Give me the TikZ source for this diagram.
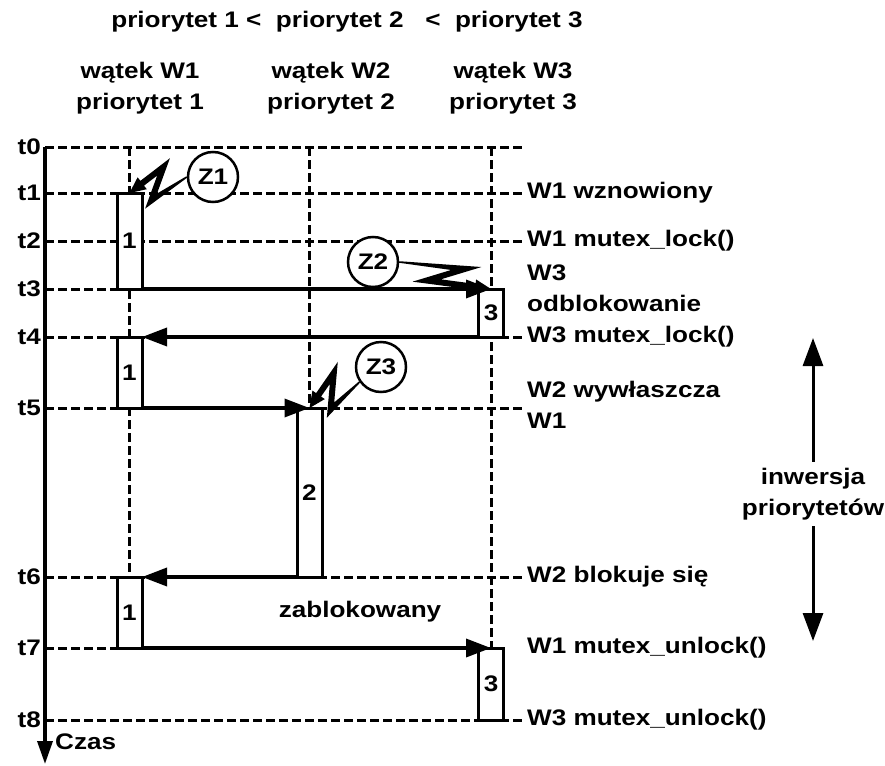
\documentclass[tikz,border=0pt]{standalone}
\usepackage{fontspec}
\setmainfont{Liberation Sans}[FakeStretch=1.16]
\usetikzlibrary{arrows.meta,calc}

% lightning from #1 to #2, far spike #3 to one side, near spike #4 to the other
\newcommand{\bolt}[4]{%
  \coordinate (bS) at (#1);
  \coordinate (bT) at (#2);
  \coordinate (bB) at ($(bS)!0.68!(bT)+(bS)!#3!90:(bT)-(bS)$);
  \coordinate (bA) at ($(bS)!0.33!(bT)+(bS)!#4!270:(bT)-(bS)$);
  \coordinate (bC) at ($(bT)!16pt!(bA)$);
  \coordinate (sl1) at ($(bS)!0.8pt!90:(bB)$);  \coordinate (sl2) at ($(bB)!3pt!270:(bS)$);
  \coordinate (sr1) at ($(bS)!0.8pt!270:(bB)$); \coordinate (sr2) at ($(bB)!3pt!90:(bS)$);
  \coordinate (ml1) at ($(bB)!3pt!90:(bA)$);    \coordinate (ml2) at ($(bA)!3pt!270:(bB)$);
  \coordinate (mr1) at ($(bB)!3pt!270:(bA)$);   \coordinate (mr2) at ($(bA)!3pt!90:(bB)$);
  \coordinate (el1) at ($(bA)!3pt!90:(bT)$);    \coordinate (el2) at ($(bC)!3pt!90:(bT)$);
  \coordinate (er1) at ($(bA)!3pt!270:(bT)$);   \coordinate (er2) at ($(bC)!3pt!270:(bT)$);
  \fill (sl1) -- (intersection of sl1--sl2 and ml1--ml2)
     -- (intersection of ml1--ml2 and el1--el2)
     -- (el2) -- ($(bC)!7.5pt!90:(bT)$) -- (bT) -- ($(bC)!7.5pt!270:(bT)$) -- (er2)
     -- (intersection of mr1--mr2 and er1--er2)
     -- (intersection of sr1--sr2 and mr1--mr2)
     -- (sr1) -- cycle;
}

\tikzset{
  every node/.style={font=\bfseries\fontsize{22.5}{31}\selectfont},
  grid/.style={line width=3pt, dash pattern=on 8.5pt off 4.5pt},
  msg/.style={line width=3.5pt, -{Triangle[length=25pt,width=18pt]}},
  task/.style={draw, fill=white, line width=3pt, minimum width=25pt,
    minimum height=#1, inner sep=0pt, outer sep=0pt},
  zcirc/.style={draw, circle, fill=white, line width=2.5pt, minimum size=50pt, inner sep=0pt},
  note/.style={anchor=west, align=left, inner sep=2pt},
}

\begin{document}
\begin{tikzpicture}[x=1pt, y=-1pt]
    \useasboundingbox (0,0) rectangle (885,765);

    % Headers
    \node (hdr) at (347,22) {priorytet 1 <\ \ priorytet 2\ \ \ <\ \ priorytet 3};
    \node[align=center] (h1) at (140,88) {wątek W1\\priorytet 1};
    \node[align=center] (h2) at (331,88) {wątek W2\\priorytet 2};
    \node[align=center] (h3) at (513,88) {wątek W3\\priorytet 3};

    % Time axis
    \foreach \n/\y in {0/147,1/193,2/241,3/289,4/337,5/408,6/577,7/648,8/720} {
        \coordinate (t\n) at (45,\y);
        \node[anchor=east, inner sep=0pt] (tl\n) at (41,\y) {t\n};
    }
    \coordinate (rim) at (525,0);
    \coordinate (tend) at (45,764);
    \draw[line width=3.5pt, -{Triangle[length=23pt,width=15pt]}] (t0) -- (tend);
    \node[anchor=west, inner sep=0pt] (czas) at (55,742) {Czas};

    % Dashed grid
    \foreach \n in {0,1,2,4,5,6,8}
        \draw[grid] (t\n) -- (t\n -| rim);
    \draw[grid] (t3) -- (129.5,289);
    \draw[grid] (t7) -- (129.5,648);
    \draw[grid] (129.5,147) -- (129.5,648);
    \draw[grid] (309.5,147) -- (309.5,408);
    \draw[grid] (491,147) -- (491,648);

    % Running threads
    \node[task=96pt] (w1a) at (129.5,241) {1};
    \node[task=48pt] (w3a) at (491,313) {3};
    \node[task=71pt] (w1b) at (129.5,372.5) {1};
    \node[task=169pt] (w2) at (309.5,492.5) {2};
    \node[task=71pt] (w1c) at (129.5,612.5) {1};
    \node[task=72pt] (w3b) at (491,684) {3};

    % Switches
    \draw[msg] (w1a.south east) -- (w3a.north);
    \draw[msg] (w3a.south west) -- (w1b.north east);
    \draw[msg] (w1b.south east) -- (w2.north);
    \draw[msg] (w2.south west) -- (w1c.north east);
    \draw[msg] (w1c.south east) -- (w3b.north);
    \node (blk) at (360,612) {zablokowany};

    % Events
    \node[zcirc] (z1) at (213,177) {Z1};
    \node[zcirc] (z2) at (373,262) {Z2};
    \node[zcirc] (z3) at (381,367) {Z3};
    \bolt{z1.west}{w1a.north}{13pt}{16pt}
    \bolt{z2.east}{w3a.north}{12pt}{10pt}
    \bolt{z3.215}{w2.north}{11pt}{20pt}

    % Notes
    \node[note] (l1) at (525,193) {W1 wznowiony};
    \node[note] (l2) at (525,241) {W1 mutex\_lock()};
    \node[note] (l3) at (525,288) {W3\\odblokowanie};
    \node[note] (l4) at (525,337) {W3 mutex\_lock()};
    \node[note] (l5) at (525,405) {W2 wywłaszcza\\W1};
    \node[note] (l6) at (525,577) {W2 blokuje się};
    \node[note] (l7) at (525,648) {W1 mutex\_unlock()};
    \node[note] (l8) at (525,720) {W3 mutex\_unlock()};

    % Inversion span
    \node[align=center, inner sep=6pt] (inv) at (813,494) {inwersja\\priorytetów};
    \coordinate (invtop) at (813,338);
    \coordinate (invbot) at (813,641);
    \draw[line width=3pt, -{Triangle[length=28pt,width=20pt]}] (inv.north) -- (invtop);
    \draw[line width=3pt, -{Triangle[length=28pt,width=20pt]}] (inv.south) -- (invbot);
\end{tikzpicture}
\end{document}
